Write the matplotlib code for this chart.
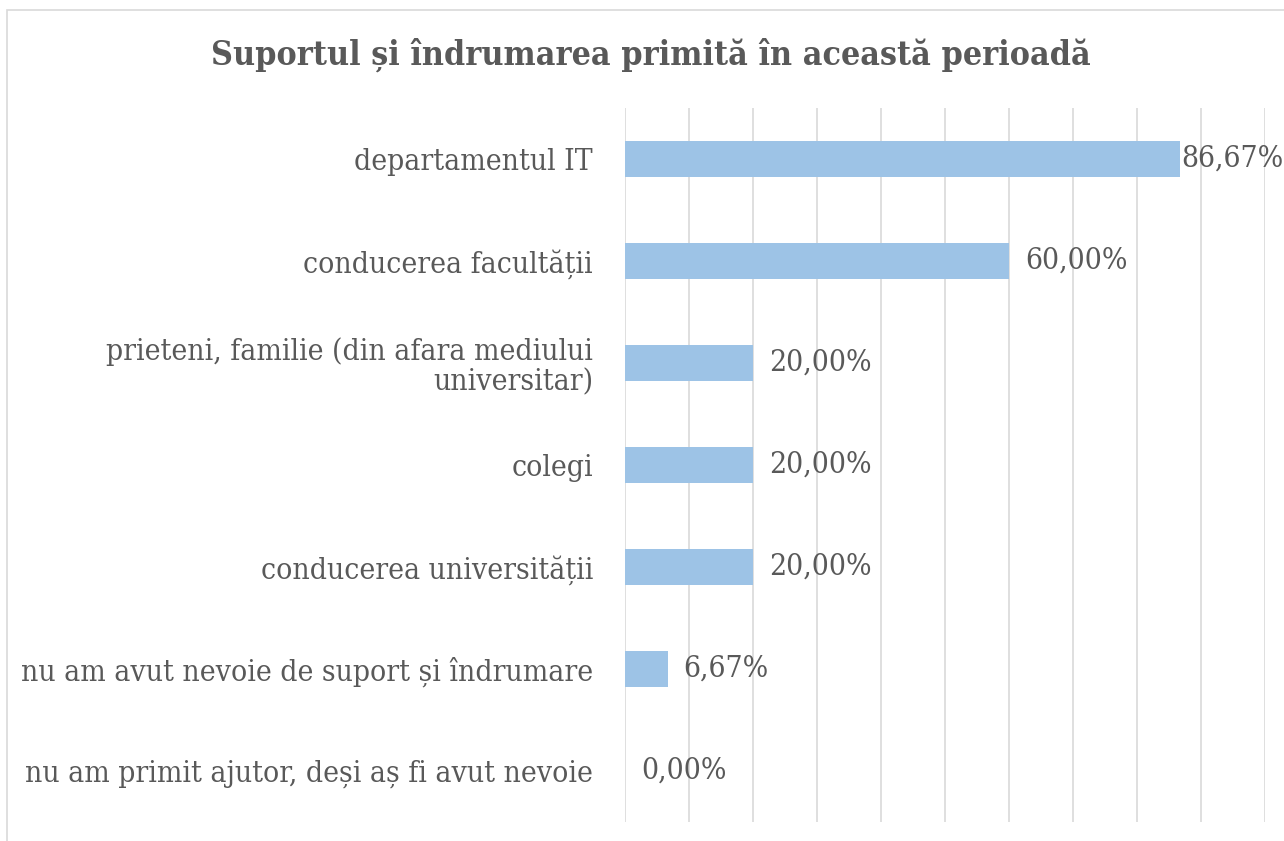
import matplotlib.pyplot as plt
from matplotlib.patches import Rectangle

# data (top to bottom)
categories = [
    'departamentul IT',
    'conducerea facultății',
    'prieteni, familie (din afara mediului\nuniversitar)',
    'colegi',
    'conducerea universității',
    'nu am avut nevoie de suport și îndrumare',
    'nu am primit ajutor, deși aș fi avut nevoie',
]
values = [86.67, 60.00, 20.00, 20.00, 20.00, 6.67, 0.00]
value_labels = ['86,67%', '60,00%', '20,00%', '20,00%', '20,00%', '6,67%', '0,00%']

text_color = '#595959'
bar_color = '#9DC3E6'
font = {'family': 'DejaVu Serif', 'stretch': 'condensed'}

fig = plt.figure(figsize=(12.84, 8.41), dpi=100)
ax = fig.add_axes([625 / 1284, 1 - 822 / 841, 640 / 1284, 714 / 841])

pos = list(range(len(categories)))[::-1]
ax.barh(pos, values, height=0.35, color=bar_color, zorder=2)
ax.set_xlim(0, 100)
ax.set_ylim(-0.5, len(categories) - 0.5)
ax.set_xticks(range(0, 101, 10))
ax.set_xticklabels([])
ax.grid(axis='x', color='#d9d9d9', linewidth=1.2, zorder=0)
ax.tick_params(length=0)
for s in ax.spines.values():
    s.set_visible(False)

ax.set_yticks(pos)
ax.set_yticklabels(categories, color=text_color, fontsize=21.5, linespacing=1.1, **font)
ax.tick_params(axis='y', pad=23)
for t in ax.get_yticklabels():
    t.set_multialignment('right')

for p, v, lab in zip(pos, values, value_labels):
    off = 0.2 if v > 80 else 2.5
    ax.text(v + off, p, lab, va='center', ha='left', color=text_color,
            fontsize=21.5, clip_on=False, **font)

fig.text(651 / 1284, 1 - 55 / 841, 'Suportul și îndrumarea primită în această perioadă',
         ha='center', va='center', fontsize=24.3, fontweight='bold', color=text_color, **font)

fig.patches.append(Rectangle((7 / 1284, -0.01), 1.1, 1 - 10 / 841 + 0.01, transform=fig.transFigure,
                             fill=False, edgecolor='#d9d9d9', linewidth=1.2))

fig.savefig('out.png', dpi=100)
